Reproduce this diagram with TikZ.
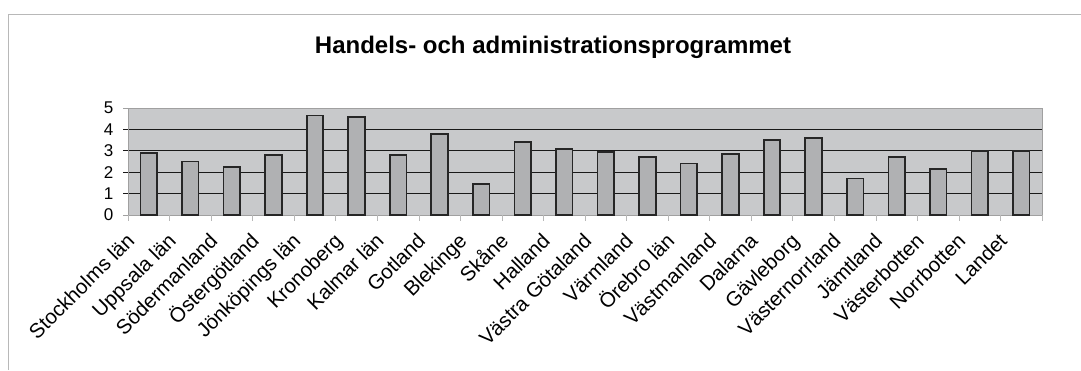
\documentclass[tikz,border=0pt]{standalone}
\usepackage{fontspec}
\setmainfont{Liberation Sans}
\usetikzlibrary{positioning}
\definecolor{plotgray}{RGB}{200,201,203}
\definecolor{bargray}{RGB}{176,177,179}
\definecolor{framegray}{RGB}{184,184,184}
\definecolor{edgegray}{RGB}{160,160,160}

\begin{document}
\begin{tikzpicture}
[
    x=1pt, y=-1pt,
    title_text/.style={font=\fontsize{24}{28}\selectfont\bfseries, inner sep=0pt, anchor=base},
    y_label/.style={font=\fontsize{17}{20}\selectfont, inner sep=0pt, anchor=east},
    cat_label/.style={font=\fontsize{20.5}{24}\selectfont, inner sep=0pt, xshift=-13pt, yshift=-27pt, rotate=45, anchor=base east},
    bar_box/.style={draw=black!85, fill=bargray, line width=1.7pt},
    grid_line/.style={draw=black!90, line width=1pt},
]
    \useasboundingbox (0,0) rectangle (1081,370);
    \draw[framegray, line width=1pt] (8,370) -- (8,14) -- (1081,14);
    \node[title_text] (title) at (553,53) {Handels- och administrationsprogrammet};
    \begin{scope}[shift={(128,215)}, x=41.55pt, y=21.4pt]
        \fill[plotgray] (0,0) rectangle (22,5);
        \draw[grid_line] (0,1) -- (22,1);
        \draw[grid_line] (0,2) -- (22,2);
        \draw[grid_line] (0,3) -- (22,3);
        \draw[grid_line] (0,4) -- (22,4);
        \draw[edgegray, line width=1pt] (0,0) rectangle (22,5);
        \draw[edgegray, line width=0.8pt] (-0.12,0) -- (0,0);
        \draw[black!90, line width=0.8pt] (-0.12,1) -- (0,1);
        \draw[black!90, line width=0.8pt] (-0.12,2) -- (0,2);
        \draw[black!90, line width=0.8pt] (-0.12,3) -- (0,3);
        \draw[black!90, line width=0.8pt] (-0.12,4) -- (0,4);
        \draw[edgegray, line width=0.8pt] (-0.12,5) -- (0,5);
        \foreach \k in {0,...,22}
            \draw[framegray, line width=0.7pt] (\k,0) -- (\k,-0.3);
        \node[y_label] (y0) at (-0.35,0) {0};
        \node[y_label] (y1) at (-0.35,1) {1};
        \node[y_label] (y2) at (-0.35,2) {2};
        \node[y_label] (y3) at (-0.35,3) {3};
        \node[y_label] (y4) at (-0.35,4) {4};
        \node[y_label] (y5) at (-0.35,5) {5};
        \draw[bar_box] (0.3,0) rectangle (0.7,2.9);
        \draw[bar_box] (1.3,0) rectangle (1.7,2.5);
        \draw[bar_box] (2.3,0) rectangle (2.7,2.25);
        \draw[bar_box] (3.3,0) rectangle (3.7,2.8);
        \draw[bar_box] (4.3,0) rectangle (4.7,4.65);
        \draw[bar_box] (5.3,0) rectangle (5.7,4.58);
        \draw[bar_box] (6.3,0) rectangle (6.7,2.8);
        \draw[bar_box] (7.3,0) rectangle (7.7,3.8);
        \draw[bar_box] (8.3,0) rectangle (8.7,1.45);
        \draw[bar_box] (9.3,0) rectangle (9.7,3.4);
        \draw[bar_box] (10.3,0) rectangle (10.7,3.1);
        \draw[bar_box] (11.3,0) rectangle (11.7,2.95);
        \draw[bar_box] (12.3,0) rectangle (12.7,2.7);
        \draw[bar_box] (13.3,0) rectangle (13.7,2.4);
        \draw[bar_box] (14.3,0) rectangle (14.7,2.85);
        \draw[bar_box] (15.3,0) rectangle (15.7,3.5);
        \draw[bar_box] (16.3,0) rectangle (16.7,3.6);
        \draw[bar_box] (17.3,0) rectangle (17.7,1.7);
        \draw[bar_box] (18.3,0) rectangle (18.7,2.7);
        \draw[bar_box] (19.3,0) rectangle (19.7,2.15);
        \draw[bar_box] (20.3,0) rectangle (20.7,3.0);
        \draw[bar_box] (21.3,0) rectangle (21.7,3.0);
        \node[cat_label] (c1) at (0.5,0) {Stockholms län};
        \node[cat_label] (c2) at (1.5,0) {Uppsala län};
        \node[cat_label] (c3) at (2.5,0) {Södermanland};
        \node[cat_label] (c4) at (3.5,0) {Östergötland};
        \node[cat_label] (c5) at (4.5,0) {Jönköpings län};
        \node[cat_label] (c6) at (5.5,0) {Kronoberg};
        \node[cat_label] (c7) at (6.5,0) {Kalmar län};
        \node[cat_label] (c8) at (7.5,0) {Gotland};
        \node[cat_label] (c9) at (8.5,0) {Blekinge};
        \node[cat_label] (c10) at (9.5,0) {Skåne};
        \node[cat_label] (c11) at (10.5,0) {Halland};
        \node[cat_label] (c12) at (11.5,0) {Västra Götaland};
        \node[cat_label] (c13) at (12.5,0) {Värmland};
        \node[cat_label] (c14) at (13.5,0) {Örebro län};
        \node[cat_label] (c15) at (14.5,0) {Västmanland};
        \node[cat_label] (c16) at (15.5,0) {Dalarna};
        \node[cat_label] (c17) at (16.5,0) {Gävleborg};
        \node[cat_label] (c18) at (17.5,0) {Västernorrland};
        \node[cat_label] (c19) at (18.5,0) {Jämtland};
        \node[cat_label] (c20) at (19.5,0) {Västerbotten};
        \node[cat_label] (c21) at (20.5,0) {Norrbotten};
        \node[cat_label] (c22) at (21.5,0) {Landet};
    \end{scope}
\end{tikzpicture}
\end{document}
